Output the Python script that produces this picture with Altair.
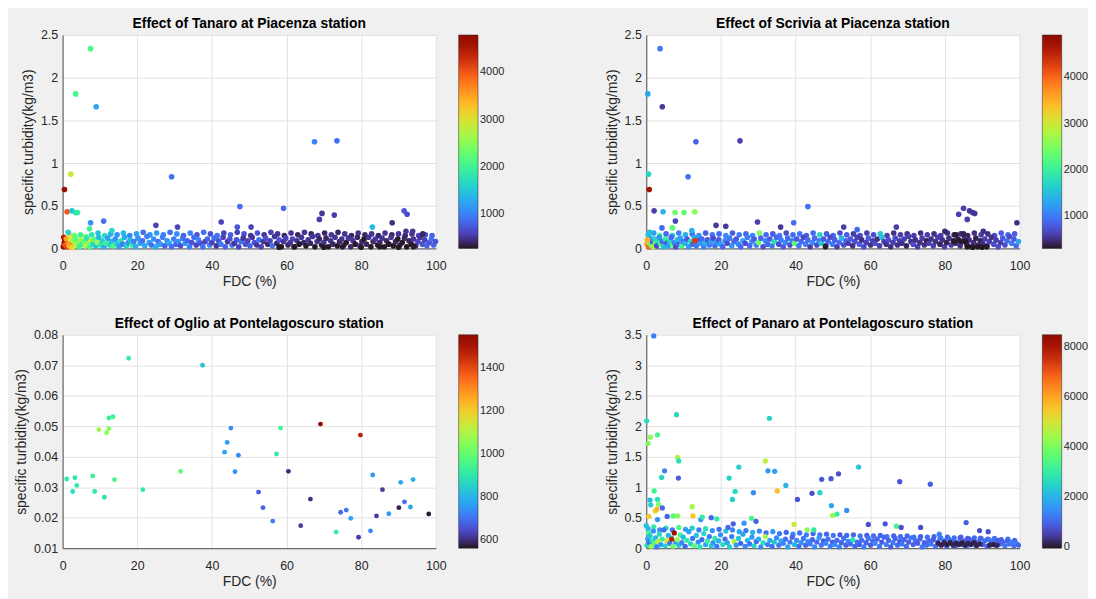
import altair as alt
import pandas as pd

X_TICKS = [0, 20, 40, 60, 80, 100]
Y_TITLE = "specific turbidity(kg/m3)"
X_TITLE = "FDC (%)"

titles = [
    "Effect of Tanaro at Piacenza station",
    "Effect of Scrivia at Piacenza station",
    "Effect of Oglio at Pontelagoscuro station",
    "Effect of Panaro at Pontelagoscuro station",
]

# ---------------- Tanaro (x, y, colour value) ----------------
tanaro_band2 = [
    (0.3,0.13,4400),(1.9,0.16,3000),(3.2,0.15,2300),(4.8,0.16,2000),(6.2,0.14,2400),(7.8,0.16,1800),(9.5,0.18,1500),
    (11.3,0.15,1700),(12.9,0.17,1300),(14.6,0.16,1100),(16.3,0.18,1400),(18.0,0.15,1000),(19.8,0.17,1200),(21.6,0.19,900),
    (23.4,0.16,1100),(25.2,0.18,1200),(27.0,0.16,1000),(28.8,0.19,900),(30.6,0.17,1100),(32.4,0.15,800),(34.2,0.18,1000),
    (36.0,0.16,700),(37.8,0.19,900),(39.6,0.17,700),(41.4,0.15,900),(43.2,0.18,600),(45.0,0.16,800),(46.8,0.19,600),
    (48.6,0.17,700),(50.4,0.15,500),(52.2,0.18,700),(54.0,0.16,500),(55.8,0.19,600),(57.6,0.17,500),(59.4,0.15,400),
    (61.2,0.18,500),(63.0,0.16,400),(64.8,0.19,500),(66.6,0.17,400),(68.4,0.15,500),(70.2,0.18,400),(72.0,0.16,500),
    (73.8,0.19,400),(75.6,0.17,500),(77.4,0.15,400),(79.2,0.18,500),(81.0,0.16,400),(82.8,0.17,500),(84.6,0.15,400),
    (86.4,0.18,500),(88.2,0.16,400),(90.0,0.17,500),(91.8,0.15,400),(93.6,0.17,500),(95.4,0.15,600),(97.2,0.16,700),
    (99.0,0.15,800),
]
tanaro_band = [
    (0.2,0.02,4600),(0.4,0.06,4300),(0.6,0.09,4700),(0.8,0.04,3900),(1.0,0.11,3500),(1.2,0.02,4100),(1.5,0.07,3700),
    (1.8,0.03,3300),(2.1,0.10,2900),(2.4,0.05,3600),(2.7,0.01,3100),(3.0,0.08,2600),(3.4,0.12,2200),(3.7,0.04,2800),
    (4.1,0.07,2400),(4.5,0.02,2000),(4.9,0.10,2600),(5.3,0.05,1900),(5.7,0.08,2300),(6.1,0.03,2700),(6.5,0.12,1800),
    (6.9,0.06,2500),(7.3,0.02,2100),(7.7,0.09,2900),(8.1,0.05,1700),(8.5,0.11,2200),(8.9,0.03,1500),(9.3,0.07,2600),
    (9.7,0.13,1400),(10.1,0.04,1900),(10.6,0.09,1600),(11.1,0.02,1300),(11.6,0.06,2000),(12.1,0.12,1200),(12.6,0.04,1700),
    (13.1,0.08,1400),(13.6,0.03,2100),(14.1,0.11,1100),(14.6,0.06,1500),(15.1,0.02,1200),(15.6,0.09,1800),(16.1,0.05,1000),
    (16.6,0.13,1300),(17.1,0.03,1600),(17.6,0.07,1100),(18.1,0.10,1400),(18.6,0.04,1900),(19.1,0.08,1000),(19.6,0.02,1300),
    (20.2,0.12,1100),(20.8,0.06,1200),(21.4,0.09,900),(22.0,0.03,1300),(22.6,0.14,1000),(23.2,0.07,1200),(23.8,0.04,900),
    (24.4,0.11,1100),(25.0,0.02,1300),(25.6,0.08,900),(26.2,0.05,1200),(26.8,0.13,1000),(27.4,0.03,800),(28.0,0.09,1100),
    (28.6,0.06,1300),(29.2,0.02,900),(29.8,0.11,1000),(30.4,0.05,800),(31.0,0.08,1100),(31.6,0.03,700),(32.2,0.12,900),
    (32.8,0.06,1200),(33.4,0.09,800),(34.0,0.02,1000),(34.6,0.07,700),(35.2,0.13,900),(35.8,0.04,600),(36.4,0.10,1000),
    (37.0,0.06,700),(37.6,0.02,900),(38.2,0.08,600),(38.8,0.11,800),(39.4,0.04,1000),(40.0,0.07,600),(40.6,0.12,900),
    (41.2,0.03,500),(41.8,0.09,700),(42.4,0.05,1000),(43.0,0.13,600),(43.6,0.02,800),(44.2,0.08,500),(44.8,0.11,700),
    (45.4,0.04,900),(46.0,0.06,500),(46.6,0.10,700),(47.2,0.02,600),(47.8,0.08,900),(48.4,0.12,500),(49.0,0.05,700),
    (49.6,0.09,600),(50.2,0.03,800),(50.8,0.13,500),(51.4,0.07,700),(52.0,0.04,500),(52.6,0.10,900),(53.2,0.02,600),
    (53.8,0.08,500),(54.4,0.12,700),(55.0,0.05,400),(55.6,0.09,600),(56.2,0.03,900),(56.8,0.14,500),(57.4,0.06,400),
    (58.0,0.10,700),(58.6,0.02,300),(59.2,0.08,500),(59.8,0.12,600),(60.4,0.04,400),(61.0,0.07,500),(61.6,0.11,600),
    (62.2,0.02,400),(62.8,0.09,500),(63.4,0.05,300),(64.0,0.13,500),(64.6,0.07,400),(65.2,0.03,300),(65.8,0.10,500),
    (66.4,0.06,400),(67.0,0.14,500),(67.6,0.02,300),(68.2,0.08,500),(68.8,0.11,400),(69.4,0.04,300),(70.0,0.07,500),
    (70.6,0.12,400),(71.2,0.02,300),(71.8,0.09,500),(72.4,0.05,400),(73.0,0.13,500),(73.6,0.03,300),(74.2,0.08,400),
    (74.8,0.11,500),(75.4,0.04,400),(76.0,0.07,300),(76.6,0.12,500),(77.2,0.02,400),(77.8,0.09,500),(78.4,0.05,300),
    (79.0,0.13,400),(79.6,0.03,500),(80.2,0.08,400),(80.8,0.11,300),(81.4,0.05,400),(82.0,0.13,500),(82.6,0.02,300),
    (83.2,0.08,400),(83.8,0.11,500),(84.4,0.04,300),(85.0,0.07,400),(85.6,0.12,500),(86.2,0.02,300),(86.8,0.09,400),
    (87.4,0.05,300),(88.0,0.13,500),(88.6,0.03,300),(89.2,0.08,400),(89.8,0.11,300),(90.4,0.04,400),(91.0,0.07,300),
    (91.6,0.12,400),(92.2,0.02,300),(92.8,0.09,400),(93.4,0.05,300),(94.0,0.11,500),(94.6,0.03,400),(95.2,0.08,600),
    (95.8,0.13,500),(96.4,0.05,700),(97.0,0.10,600),(97.6,0.03,800),(98.2,0.07,700),(98.8,0.11,900),(99.4,0.04,800),
    (99.9,0.08,700),
    (58.0,0.015,300),(62.0,0.02,300),(70.0,0.015,300),(75.0,0.02,310),(80.0,0.015,300),(85.0,0.02,300),(90.0,0.015,300),
    (94.0,0.02,310),
]
tanaro_high = [
    (7.5,2.34,2100),(3.5,1.81,2050),(9.0,1.66,1250),(29.2,0.84,900),(67.5,1.25,1000),(73.5,1.26,900),(2.2,0.87,2900),
    (0.5,0.69,4700),(1.2,0.43,4000),(2.5,0.44,1500),(3.5,0.42,1800),(4.0,0.42,1900),(47.5,0.49,900),(59.2,0.47,850),
    (69.5,0.41,500),(68.8,0.34,550),(72.8,0.39,550),(91.5,0.44,700),(92.3,0.40,650),(88.3,0.30,450),(83.0,0.25,1400),
    (7.5,0.30,1100),(11.0,0.32,900),(42.5,0.31,600),(25.0,0.27,600),(30.8,0.25,600),(46.8,0.25,700),(50.5,0.25,600),
    (7.2,0.23,2000),(13.2,0.21,1700),(1.5,0.19,1600),(92.0,0.20,500),(93.8,0.20,500),(96.5,0.17,400),
]

# ---------------- Scrivia ----------------
scrivia_band2 = [
    (0.5,0.16,1600),(2.0,0.18,1200),(3.6,0.15,2100),(5.3,0.17,900),(7.0,0.15,1600),(8.7,0.18,1100),(10.5,0.16,1400),
    (12.3,0.17,900),(14.1,0.15,1200),(15.9,0.18,800),(17.7,0.16,1000),(19.5,0.17,900),(21.3,0.15,1100),(23.1,0.18,800),
    (24.9,0.16,1000),(26.7,0.17,900),(28.5,0.15,1100),(30.3,0.18,2500),(32.1,0.16,900),(33.9,0.17,800),(35.7,0.15,1000),
    (37.5,0.18,700),(39.3,0.16,900),(41.1,0.17,1000),(42.9,0.15,800),(44.7,0.18,900),(46.5,0.16,1700),(48.3,0.17,800),
    (50.1,0.15,900),(51.9,0.18,700),(53.7,0.16,800),(55.5,0.17,600),(57.3,0.15,700),(59.1,0.18,600),(60.9,0.16,700),
    (62.7,0.17,1600),(64.5,0.15,600),(66.3,0.18,500),(68.1,0.16,600),(69.9,0.17,500),(71.7,0.15,600),(73.5,0.18,500),
    (75.3,0.16,600),(77.1,0.17,500),(78.9,0.15,600),(80.7,0.18,500),(82.5,0.16,400),(84.3,0.17,500),(86.1,0.15,400),
    (87.9,0.18,500),(89.7,0.16,600),(91.5,0.17,500),(93.3,0.15,700),(95.1,0.18,800),(96.9,0.16,900),(98.7,0.17,800),
]
scrivia_band = [
    (0.2,0.05,3600),(0.4,0.10,1500),(0.6,0.02,4000),(0.8,0.07,2600),(1.0,0.12,1300),(1.3,0.04,2300),(1.6,0.08,900),
    (1.9,0.02,2800),(2.2,0.11,1600),(2.5,0.06,2400),(2.8,0.03,700),(3.1,0.09,1800),(3.5,0.13,1200),(3.9,0.05,2200),
    (4.3,0.08,900),(4.7,0.02,1500),(5.1,0.11,2000),(5.5,0.06,800),(5.9,0.03,1300),(6.3,0.09,1700),(6.7,0.13,900),
    (7.1,0.04,2300),(7.5,0.07,1100),(7.9,0.02,700),(8.3,0.10,1500),(8.7,0.05,900),(9.1,0.12,1300),(9.5,0.03,2100),
    (9.9,0.08,1000),(10.4,0.06,1400),(10.9,0.11,800),(11.4,0.02,1200),(11.9,0.08,1800),(12.4,0.05,900),(12.9,0.13,1300),
    (13.4,0.03,1000),(13.9,0.09,700),(14.4,0.06,1200),(14.9,0.11,900),(15.4,0.02,1100),(15.9,0.07,1400),(16.4,0.10,800),
    (16.9,0.04,1000),(17.4,0.08,1300),(17.9,0.12,700),(18.4,0.03,900),(18.9,0.07,1100),(19.4,0.10,800),(19.9,0.05,1300),
    (20.5,0.02,900),(21.1,0.09,1100),(21.7,0.06,700),(22.3,0.12,1000),(22.9,0.03,1200),(23.5,0.08,900),(24.1,0.11,800),
    (24.7,0.05,1100),(25.3,0.02,900),(25.9,0.09,1300),(26.5,0.06,700),(27.1,0.13,1000),(27.7,0.03,900),(28.3,0.08,1100),
    (28.9,0.11,800),(29.5,0.04,1000),(30.1,0.07,2400),(30.7,0.12,900),(31.3,0.02,700),(31.9,0.09,1100),(32.5,0.05,900),
    (33.1,0.11,800),(33.7,0.03,1000),(34.3,0.08,1800),(34.9,0.13,900),(35.5,0.05,700),(36.1,0.10,1000),(36.7,0.02,800),
    (37.3,0.07,1100),(37.9,0.12,900),(38.5,0.04,700),(39.1,0.09,1000),(39.7,0.06,2300),(40.3,0.11,800),(40.9,0.03,1000),
    (41.5,0.08,900),(42.1,0.13,700),(42.7,0.05,1000),(43.3,0.10,900),(43.9,0.02,600),(44.5,0.07,1100),(45.1,0.12,900),
    (45.7,0.04,700),(46.3,0.09,1000),(46.9,0.06,1600),(47.5,0.11,800),(48.1,0.03,400),(48.7,0.08,900),(49.3,0.13,700),
    (49.9,0.05,1000),(50.5,0.10,800),(51.1,0.02,600),(51.7,0.07,900),(52.3,0.12,1400),(52.9,0.04,700),(53.5,0.09,900),
    (54.1,0.06,600),(54.7,0.11,800),(55.3,0.03,500),(55.9,0.08,700),(56.5,0.13,600),(57.1,0.05,800),(57.7,0.10,500),
    (58.3,0.02,700),(58.9,0.07,600),(59.5,0.12,800),(60.1,0.04,500),(60.7,0.09,600),(61.3,0.06,700),(61.9,0.11,500),
    (62.5,0.03,600),(63.1,0.13,1500),(63.7,0.08,600),(64.3,0.05,500),(64.9,0.10,700),(65.5,0.02,500),(66.1,0.07,600),
    (66.7,0.12,700),(67.3,0.04,500),(67.9,0.09,600),(68.5,0.06,500),(69.1,0.11,600),(69.7,0.03,400),(70.3,0.14,600),
    (70.9,0.08,500),(71.5,0.05,700),(72.1,0.10,500),(72.7,0.02,600),(73.3,0.07,500),(73.9,0.12,600),(74.5,0.04,500),
    (75.1,0.09,400),(75.7,0.06,600),(76.3,0.11,500),(76.9,0.03,600),(77.5,0.08,500),(78.1,0.13,600),(78.7,0.05,400),
    (79.3,0.10,500),(79.9,0.02,600),(80.5,0.07,400),(81.1,0.12,500),(81.7,0.04,600),(82.3,0.09,400),(82.9,0.06,500),
    (83.5,0.11,400),(84.1,0.03,500),(84.7,0.08,400),(85.3,0.13,500),(85.9,0.05,400),(86.5,0.10,500),(87.1,0.02,400),
    (87.7,0.07,500),(88.3,0.12,400),(88.9,0.04,500),(89.5,0.09,400),(90.1,0.06,500),(90.7,0.11,600),(91.3,0.03,500),
    (91.9,0.08,600),(92.5,0.13,500),(93.1,0.05,700),(93.7,0.10,600),(94.3,0.02,700),(94.9,0.07,600),(95.5,0.12,800),
    (96.1,0.04,700),(96.7,0.09,900),(97.3,0.14,700),(97.9,0.06,1000),(98.5,0.11,800),(99.1,0.03,900),(99.7,0.08,1300),
    (86.0,0.02,320),(87.5,0.015,320),(88.8,0.02,330),(90.0,0.015,320),(91.2,0.02,330),(82.5,0.08,330),(84.0,0.09,340),
    (85.5,0.085,330),(48.0,0.02,350),
]
scrivia_high = [
    (3.7,2.34,1000),(0.4,1.81,1300),(4.3,1.66,550),(13.3,1.25,850),(25.1,1.26,600),(0.6,0.87,1700),(11.2,0.84,950),
    (0.8,0.69,4700),(2.1,0.44,600),(4.5,0.43,1400),(7.7,0.42,2400),(10.1,0.42,2300),(13.0,0.43,2600),(7.8,0.32,650),
    (29.8,0.31,600),(43.3,0.49,950),(18.7,0.27,550),(21.3,0.26,550),(36.0,0.25,550),(39.5,0.30,900),(52.9,0.25,600),
    (56.5,0.22,900),(67.0,0.25,600),(83.7,0.40,600),(85.0,0.47,600),(86.0,0.34,600),(86.6,0.44,550),(87.4,0.42,550),
    (88.0,0.41,550),(99.3,0.30,500),(4.2,0.24,900),(7.0,0.24,2300),(12.2,0.21,1400),(0.9,0.19,1500),(13.0,0.09,4300),
    (0.3,0.10,3500),(90.3,0.20,500),(80.0,0.20,450),(83.0,0.16,350),(85.0,0.17,400),
]

# ---------------- Oglio ----------------
oglio_pts = [
    (1.1,0.0327,900),(3.3,0.0331,900),(2.7,0.0286,870),(3.8,0.0306,900),(8.1,0.0337,930),(8.6,0.0286,900),
    (9.7,0.0489,1080),(11.2,0.0267,890),(11.8,0.0479,1050),(12.4,0.0492,1040),(12.4,0.0527,930),(13.5,0.0531,940),
    (13.9,0.0325,950),(17.7,0.0723,920),(21.5,0.0292,900),(31.6,0.0352,990),(37.5,0.0700,830),(43.4,0.0415,770),
    (44.1,0.0447,760),(45.1,0.0494,730),(46.2,0.0351,750),(47.1,0.0405,740),(52.5,0.0284,670),(53.7,0.0233,680),
    (56.3,0.0189,710),(57.3,0.0409,920),(58.4,0.0494,940),(60.5,0.0352,600),(63.8,0.0174,620),(66.4,0.0261,600),
    (69.1,0.0507,1550),(73.3,0.0153,920),(74.5,0.0218,680),(76.0,0.0225,700),(77.2,0.0198,770),(79.3,0.0136,620),
    (79.8,0.0471,1470),(82.5,0.0157,730),(83.1,0.0340,760),(84.1,0.0206,620),(85.7,0.0292,620),(87.4,0.0213,760),
    (90.1,0.0233,580),(90.6,0.0316,780),(91.6,0.0252,690),(93.2,0.0235,780),(93.9,0.0325,790),(98.1,0.0212,570),
]

# ---------------- Panaro ----------------
panaro_band2 = [
    (0.5,0.32,2000),(2.0,0.35,3000),(3.6,0.30,1500),(5.3,0.33,2600),(7.0,0.30,1200),(8.7,0.34,3500),(10.5,0.31,1800),
    (12.3,0.33,2400),(14.1,0.30,1300),(15.9,0.32,2800),(17.7,0.29,1600),(19.5,0.31,1100),(21.3,0.28,2300),(23.1,0.30,1400),
    (24.9,0.27,1800),(26.7,0.29,1200),(28.5,0.26,2000),(30.3,0.28,1400),(32.1,0.25,1100),(33.9,0.27,1600),(35.7,0.24,1200),
    (37.5,0.26,1000),(39.3,0.23,1500),(41.1,0.25,1100),(42.9,0.22,1300),(44.7,0.24,1000),(46.5,0.22,1200),(48.3,0.23,1000),
    (50.1,0.21,1300),(51.9,0.22,900),(53.7,0.21,1100),(55.5,0.22,1000),(57.3,0.20,1200),(59.1,0.21,900),(60.9,0.20,1100),
    (62.7,0.21,1000),(64.5,0.19,1200),(66.3,0.20,900),(68.1,0.19,1100),(69.9,0.20,1000),(71.7,0.18,1200),(73.5,0.19,900),
    (75.3,0.18,1100),(77.1,0.19,1000),(78.9,0.17,1200),(80.7,0.18,900),(82.5,0.17,1100),(84.3,0.18,1000),(86.1,0.16,900),
    (87.9,0.17,1100),(89.7,0.16,1000),(91.5,0.15,900),(93.3,0.16,1100),(95.1,0.14,1000),(96.9,0.15,1200),(98.7,0.13,1000),
]
panaro_band = [
    (0.2,0.05,2600),(0.4,0.15,1800),(0.6,0.25,3300),(0.8,0.09,1200),(1.0,0.20,2300),(1.3,0.03,4200),(1.6,0.12,2800),
    (1.9,0.28,1500),(2.2,0.07,3600),(2.5,0.17,2100),(2.8,0.02,1300),(3.1,0.11,4700),(3.5,0.23,2600),(3.9,0.06,1700),
    (4.3,0.15,3100),(4.7,0.30,1100),(5.1,0.04,2500),(5.5,0.12,5200),(5.9,0.21,1900),(6.3,0.08,1200),(6.7,0.17,2700),
    (7.1,0.03,3800),(7.5,0.25,8300),(7.9,0.10,1500),(8.3,0.14,4400),(8.7,0.05,2300),(9.1,0.22,3300),(9.5,0.09,1400),
    (9.9,0.18,2100),(10.4,0.03,1000),(10.9,0.13,3000),(11.4,0.27,1700),(11.9,0.07,2500),(12.4,0.16,1200),(12.9,0.04,3600),
    (13.4,0.21,2200),(13.9,0.10,1500),(14.4,0.02,2800),(14.9,0.14,1100),(15.4,0.24,2600),(15.9,0.06,1800),(16.4,0.12,3200),
    (16.9,0.19,1300),(17.4,0.04,2400),(17.9,0.09,1700),(18.4,0.16,2900),(18.9,0.03,1200),(19.4,0.12,2000),(19.9,0.22,1500),
    (20.5,0.06,2700),(21.1,0.15,1100),(21.7,0.09,1800),(22.3,0.02,2400),(22.9,0.19,1300),(23.5,0.11,4600),(24.1,0.05,1600),
    (24.7,0.16,2300),(25.3,0.08,1000),(25.9,0.23,1800),(26.5,0.03,1400),(27.1,0.13,2200),(27.7,0.07,1200),(28.3,0.18,1700),
    (28.9,0.04,2500),(29.5,0.11,1100),(30.1,0.15,1900),(30.7,0.02,1400),(31.3,0.09,2700),(31.9,0.19,4400),(32.5,0.06,1300),
    (33.1,0.13,1800),(33.7,0.03,1100),(34.3,0.10,2300),(34.9,0.17,1500),(35.5,0.05,1200),(36.1,0.12,1900),(36.7,0.08,1400),
    (37.3,0.15,1100),(37.9,0.02,1700),(38.5,0.10,1300),(39.1,0.18,1000),(39.7,0.06,2100),(40.3,0.13,1400),(40.9,0.03,1100),
    (41.5,0.09,1600),(42.1,0.16,1200),(42.7,0.05,1000),(43.3,0.11,1500),(43.9,0.07,1300),(44.5,0.14,1000),(45.1,0.02,1400),
    (45.7,0.10,1100),(46.3,0.17,1600),(46.9,0.05,1200),(47.5,0.12,900),(48.1,0.08,1400),(48.7,0.15,1100),(49.3,0.03,1300),
    (49.9,0.10,900),(50.5,0.06,1500),(51.1,0.13,1100),(51.7,0.02,1300),(52.3,0.09,1000),(52.9,0.16,1200),(53.5,0.05,900),
    (54.1,0.11,1400),(54.7,0.07,1100),(55.3,0.14,2800),(55.9,0.03,1000),(56.5,0.10,1200),(57.1,0.06,900),(57.7,0.13,1100),
    (58.3,0.02,1300),(58.9,0.09,1000),(59.5,0.16,1200),(60.1,0.05,900),(60.7,0.12,1100),(61.3,0.08,1400),(61.9,0.15,1000),
    (62.5,0.03,1200),(63.1,0.10,900),(63.7,0.18,1100),(64.3,0.06,1300),(64.9,0.13,1000),(65.5,0.02,900),(66.1,0.09,1200),
    (66.7,0.16,1000),(67.3,0.05,1100),(67.9,0.11,900),(68.5,0.07,1200),(69.1,0.14,1000),(69.7,0.03,1100),(70.3,0.10,900),
    (70.9,0.17,1200),(71.5,0.06,1000),(72.1,0.12,1100),(72.7,0.08,900),(73.3,0.15,1000),(73.9,0.02,1200),(74.5,0.09,900),
    (75.1,0.05,1100),(75.7,0.12,1000),(76.3,0.07,1200),(76.9,0.14,900),(77.5,0.03,1100),(78.1,0.10,1000),(78.7,0.16,1200),
    (79.3,0.06,900),(79.9,0.12,1100),(80.5,0.03,1000),(81.1,0.15,1200),(81.7,0.08,900),(82.3,0.13,1100),(82.9,0.04,1000),
    (83.5,0.10,1200),(84.1,0.17,900),(84.7,0.06,1100),(85.3,0.12,1000),(85.9,0.03,1200),(86.5,0.15,900),(87.1,0.08,1100),
    (87.7,0.13,1000),(88.3,0.04,900),(88.9,0.10,1100),(89.5,0.16,1000),(90.1,0.06,900),(90.7,0.12,1100),(91.3,0.03,1000),
    (91.9,0.14,1200),(92.5,0.08,900),(93.1,0.11,1100),(93.7,0.05,1000),(94.3,0.13,900),(94.9,0.07,1100),(95.5,0.10,1000),
    (96.1,0.04,1200),(96.7,0.12,1000),(97.3,0.07,1100),(97.9,0.10,1300),(98.5,0.04,1100),(99.1,0.08,1200),(99.7,0.05,1000),
    (78.2,0.08,150),(79.0,0.05,100),(79.8,0.09,120),(80.6,0.06,80),(81.4,0.09,100),(82.2,0.05,150),(83.0,0.08,90),
    (83.8,0.06,110),(84.6,0.09,80),(85.4,0.05,100),(86.2,0.08,130),(87.0,0.06,90),(87.8,0.09,110),(88.6,0.05,100),
    (89.4,0.07,140),(92.0,0.05,120),(93.0,0.06,100),(94.0,0.05,150),(6.8,0.15,7800),
]
panaro_high = [
    (2.0,3.48,1300),(0.1,2.09,2700),(8.1,2.19,2600),(33.0,2.13,2500),(1.1,1.82,4200),(3.0,1.86,3300),(0.5,1.72,4000),
    (8.4,1.49,4500),(8.7,1.43,2700),(31.9,1.43,4800),(4.9,1.27,1300),(24.8,1.33,2400),(32.6,1.27,1600),(34.4,1.26,1700),
    (56.9,1.33,2300),(4.1,1.16,2600),(8.6,1.15,900),(22.2,1.15,2500),(47.0,1.13,800),(49.5,1.14,800),(51.5,1.22,700),
    (67.9,1.09,800),(76.1,1.05,900),(37.4,1.03,2000),(2.1,0.94,3200),(23.8,0.93,2600),(28.7,0.91,1500),(35.1,0.94,5700),
    (44.4,0.90,700),(46.5,0.91,2500),(1.0,0.79,2100),(3.0,0.80,2800),(23.1,0.80,2400),(40.5,0.80,800),(1.2,0.71,2400),
    (3.3,0.72,4000),(49.6,0.70,1800),(4.3,0.66,1000),(2.4,0.61,5200),(2.8,0.64,5800),(12.3,0.68,4400),(53.7,0.62,1500),
    (0.7,0.52,5500),(5.6,0.52,1000),(7.2,0.53,3600),(8.4,0.53,4200),(12.5,0.53,5600),(14.6,0.47,1600),(15.0,0.51,3000),
    (18.9,0.48,3000),(17.4,0.50,1000),(49.9,0.54,4300),(51.1,0.56,3000),(28.2,0.49,3300),(29.4,0.44,900),(3.0,0.47,1600),
    (0.0,0.37,2200),(39.6,0.39,5000),(59.5,0.39,700),(64.0,0.40,800),(85.7,0.42,900),(67.0,0.36,3300),(68.3,0.34,700),
    (73.5,0.34,700),(43.1,0.30,4200),(44.9,0.30,3000),(89.3,0.29,700),(91.6,0.27,700),(23.3,0.40,900),(26.2,0.41,1600),
    (21.9,0.34,1000),(78.5,0.23,1300),
]

panels = [
    dict(pts=tanaro_band2 + tanaro_band + tanaro_high, ydom=[0, 2.5], yvals=[0, 0.5, 1, 1.5, 2, 2.5],
         cdom=[280, 4790], cvals=[1000, 2000, 3000, 4000], size=32),
    dict(pts=scrivia_band2 + scrivia_band + scrivia_high, ydom=[0, 2.5], yvals=[0, 0.5, 1, 1.5, 2, 2.5],
         cdom=[310, 4910], cvals=[1000, 2000, 3000, 4000], size=32),
    dict(pts=oglio_pts, ydom=[0.01, 0.08], yvals=[0.01, 0.02, 0.03, 0.04, 0.05, 0.06, 0.07, 0.08],
         cdom=[562, 1552], cvals=[600, 800, 1000, 1200, 1400], size=24),
    dict(pts=panaro_band2 + panaro_band + panaro_high, ydom=[0, 3.5], yvals=[0, 0.5, 1, 1.5, 2, 2.5, 3, 3.5],
         cdom=[-40, 8510], cvals=[0, 2000, 4000, 6000, 8000], size=28),
]

PW, PH = 376, 215
FONT = "Liberation Sans"


def make_panel(p, title):
    df = pd.DataFrame(p["pts"], columns=["x", "y", "c"])
    return alt.Chart(df).mark_circle(size=p["size"], opacity=1).encode(
        x=alt.X("x:Q", scale=alt.Scale(domain=[0, 100], nice=False, zero=False),
                axis=alt.Axis(values=X_TICKS, title=X_TITLE, format="d")),
        y=alt.Y("y:Q", scale=alt.Scale(domain=p["ydom"], nice=False, zero=False),
                axis=alt.Axis(values=p["yvals"], title=Y_TITLE, format="~g")),
        color=alt.Color("c:Q", scale=alt.Scale(scheme="turbo", domain=p["cdom"]),
                        legend=alt.Legend(values=p["cvals"], orient="none", legendX=PW + 23, legendY=0,
                                          title=None, format="d", padding=0)),
    ).properties(width=PW, height=PH,
                 title=alt.Title(title, anchor="middle", frame="group", offset=-2))


charts = [make_panel(p, t) for p, t in zip(panels, titles)]

chart = alt.concat(
    *charts, columns=2, spacing={"row": 87, "column": 212}, bounds="flush"
).resolve_scale(
    color="independent", x="independent", y="independent"
).resolve_legend(
    color="independent"
).properties(
    padding={"left": 6, "top": 7, "right": 0, "bottom": 10},
    background="#f0f0f0",
).configure_view(
    stroke=None, fill="white"
).configure_axis(
    labelFont=FONT, titleFont=FONT, labelFontSize=12.5, titleFontSize=14, titleFontWeight="normal",
    labelColor="#262626", titleColor="#262626", domainColor="#4d4d4d", domainWidth=1,
    gridColor="#e2e2e2", gridWidth=1, ticks=False, tickSize=0,
).configure_axisX(
    labelPadding=11, titlePadding=3, labelFlush=False,
).configure_axisY(
    labelPadding=5, titlePadding=5,
).configure_title(
    font=FONT, fontSize=14, fontWeight="bold", color="black",
).configure_legend(
    gradientLength=PH, gradientThickness=19.5, labelFont=FONT, labelFontSize=11,
    labelColor="#262626", labelOffset=4, gradientStrokeColor="#262626", gradientStrokeWidth=0.5,
    direction="vertical",
)

chart.save("out.html", embed_options={"renderer": "svg", "actions": False})
